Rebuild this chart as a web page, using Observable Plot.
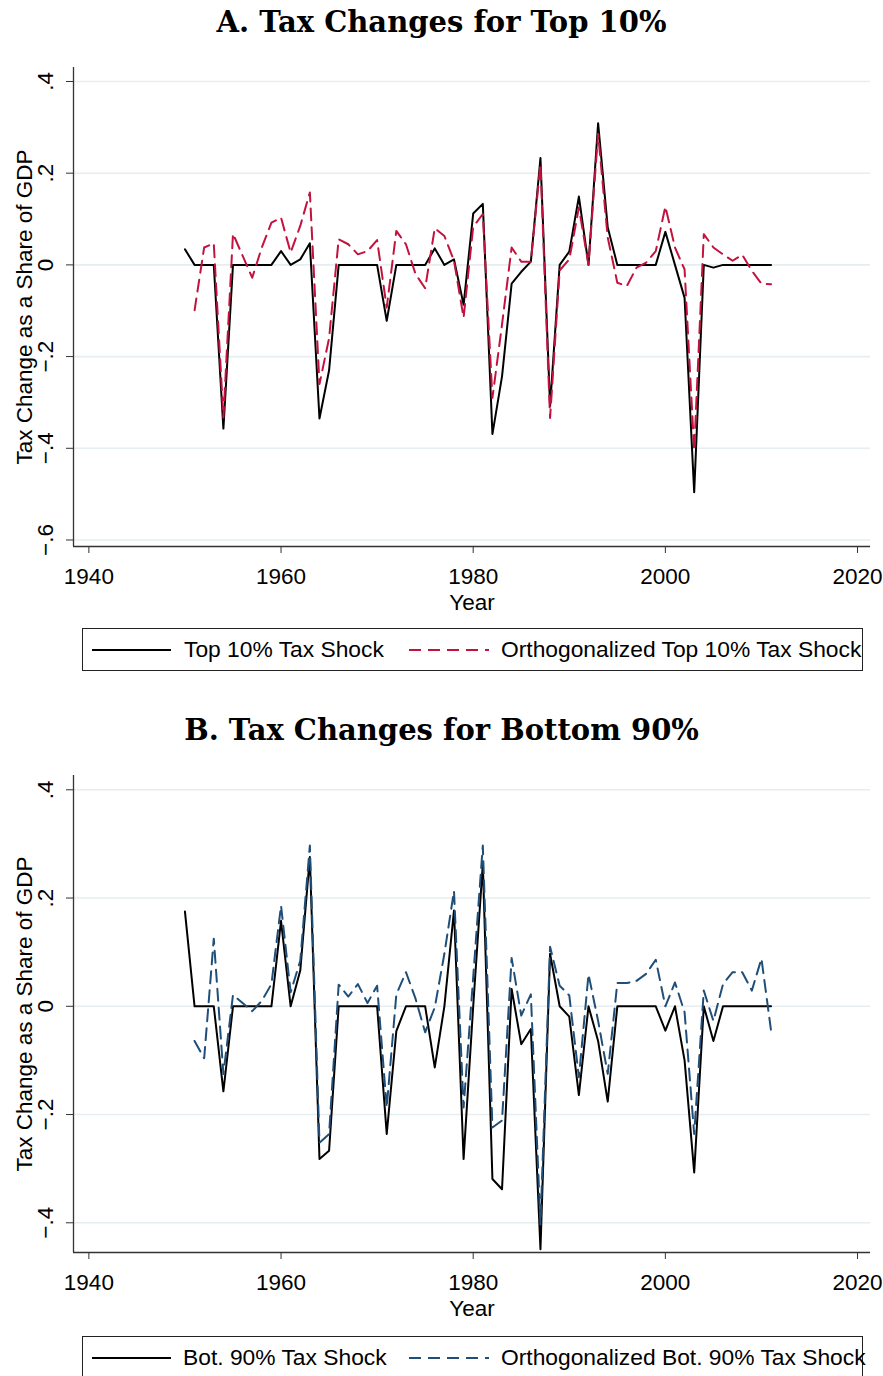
<!DOCTYPE html>
<html>
<head>
<meta charset="utf-8">
<script src="https://cdn.jsdelivr.net/npm/d3@7"></script>
<script src="https://cdn.jsdelivr.net/npm/@observablehq/plot@0.6"></script>
<style>
  html, body { margin: 0; padding: 0; background: #fff; }
  body { width: 883px; height: 1376px; overflow: hidden; }
  #root { position: relative; width: 883px; height: 1376px; font-family: "Liberation Sans", Arial, sans-serif; color: #000; }
  .title { position: absolute; left: 0; width: 883px; height: 44px; line-height: 44px; text-align: center;
           font-family: "DejaVu Serif", "Liberation Serif", serif; font-weight: bold; font-size: 29px; }
  .panel { position: absolute; left: 0; }
  .legend { position: absolute; left: 82px; width: 781px; height: 43px; border: 1px solid #222; box-sizing: border-box;
            font-size: 22.8px; background: #fff; }
  .legend .item { position: absolute; top: 0; height: 41px; line-height: 41px; white-space: nowrap; }
  .legend svg { position: absolute; top: 0; }
</style>
</head>
<body>
<div id="root"></div>
<script>
// ---------------- data ----------------
const yearsBlack = d3.range(1950, 2012);   // 1950..2011
const yearsOrtho = d3.range(1951, 2012);   // 1951..2011

const top10Shock = [
  0.034, 0, 0, 0, -0.357, 0, 0, 0, 0, 0,
  0.030, 0, 0.012, 0.047, -0.335, -0.230, 0, 0, 0, 0,
  0, -0.122, 0, 0, 0, 0, 0.036, 0, 0.012, -0.087,
  0.112, 0.133, -0.369, -0.243, -0.041, -0.015, 0.007, 0.233, -0.308, 0,
  0.029, 0.149, 0, 0.309, 0.082, 0, 0, 0, 0, 0,
  0.072, 0, -0.072, -0.496, 0, -0.006, 0, 0, 0, 0,
  0, 0
];
const top10Ortho = [
  -0.099, 0.038, 0.047, -0.333, 0.068, 0.020, -0.028, 0.038, 0.092,
  0.103, 0.027, 0.085, 0.158, -0.260, -0.160, 0.056, 0.045, 0.023, 0.030,
  0.054, -0.093, 0.074, 0.045, -0.020, -0.051, 0.080, 0.063, 0.009, -0.115,
  0.083, 0.111, -0.290, -0.130, 0.038, 0.007, 0.007, 0.220, -0.334, -0.012,
  0.012, 0.125, 0, 0.286, 0.060, -0.039, -0.046, -0.006, 0.005, 0.030,
  0.127, 0.038, -0.010, -0.405, 0.067, 0.038, 0.023, 0.009, 0.022, -0.013,
  -0.041, -0.042
];
const bot90Shock = [
  0.175, 0, 0, 0, -0.157, 0, 0, 0, 0, 0,
  0.158, 0, 0.066, 0.276, -0.282, -0.267, 0, 0, 0, 0,
  0, -0.236, -0.046, 0, 0, 0, -0.113, 0, 0.177, -0.282,
  0, 0.263, -0.319, -0.338, 0.032, -0.070, -0.042, -0.449, 0.097, 0,
  -0.019, -0.164, 0, -0.064, -0.176, 0, 0, 0, 0, 0,
  -0.045, 0, -0.100, -0.307, 0, -0.064, 0, 0, 0, 0,
  0, 0
];
const bot90Ortho = [
  -0.064, -0.096, 0.125, -0.125, 0.021, 0.006, -0.009, 0.010, 0.041,
  0.186, 0.026, 0.084, 0.297, -0.252, -0.236, 0.040, 0.018, 0.041, 0.006,
  0.038, -0.187, 0.022, 0.063, 0.014, -0.048, -0.002, 0.097, 0.213, -0.187,
  0.054, 0.297, -0.224, -0.211, 0.089, -0.017, 0.022, -0.403, 0.110, 0.038,
  0.020, -0.131, 0.059, -0.027, -0.125, 0.043, 0.043, 0.047, 0.060, 0.086,
  0, 0.044, -0.011, -0.236, 0.029, -0.027, 0.041, 0.063, 0.063, 0.029,
  0.088, -0.045
];

const xTicks = [1940, 1960, 1980, 2000, 2020];
const yTicksA = [0.4, 0.2, 0, -0.2, -0.4, -0.6];
const yTicksB = [0.4, 0.2, 0, -0.2, -0.4];

const titleA = "A. Tax Changes for Top 10%";
const titleB = "B. Tax Changes for Bottom 90%";
const yLabel = "Tax Change as a Share of GDP";
const xLabel = "Year";
const legendA = ["Top 10% Tax Shock", "Orthogonalized Top 10% Tax Shock"];
const legendB = ["Bot. 90% Tax Shock", "Orthogonalized Bot. 90% Tax Shock"];

const colorRed = "#c4123f";
const colorBlue = "#1f4e79";
const gridColor = "#e6eef1";
const axisColor = "#333";
const dash = "12,7";
const fs = 22.5;

const xDomain = [1938.4, 2021.35];

// ---------------- helpers ----------------
const fmtY = d => d === 0 ? "0" : (d < 0 ? "\u2212" : "") + String(Math.abs(d)).replace(/^0/, "");

function panel({black, ortho, orthoColor, yDomain, yTicks, height, marginTop, marginBottom}) {
  const blackData = yearsBlack.map((year, i) => ({year, value: black[i]}));
  const orthoData = yearsOrtho.map((year, i) => ({year, value: ortho[i]}));
  return Plot.plot({
    width: 883,
    height,
    marginLeft: 73,
    marginRight: 13,
    marginTop,
    marginBottom,
    style: {fontFamily: "'Liberation Sans', Arial, sans-serif", fontSize: fs + "px", background: "transparent", color: "#000", overflow: "visible"},
    x: {domain: xDomain},
    y: {domain: yDomain},
    marks: [
      Plot.ruleY(yTicks, {stroke: gridColor, strokeWidth: 1.6}),
      Plot.axisX({ticks: xTicks, tickSize: 7, tickPadding: 15, tickFormat: d => String(d), label: null, stroke: axisColor, fontSize: fs}),
      Plot.axisY({ticks: yTicks, tickSize: 7, tickFormat: () => "", label: null, stroke: axisColor}),
      Plot.text(yTicks, {y: d => d, text: fmtY, frameAnchor: "left", dx: -28, rotate: -90,
                         textAnchor: "middle", lineAnchor: "middle", fontSize: fs}),
      Plot.text([yLabel], {text: d => d, frameAnchor: "left", dx: -49, rotate: -90,
                           textAnchor: "middle", lineAnchor: "middle", fontSize: fs}),
      Plot.text([xLabel], {text: d => d, frameAnchor: "bottom", dy: 56, lineAnchor: "middle", fontSize: fs}),
      Plot.ruleX([xDomain[0]], {stroke: axisColor, strokeWidth: 1.3}),
      Plot.ruleY([yDomain[0]], {stroke: axisColor, strokeWidth: 1.3}),
      Plot.lineY(blackData, {x: "year", y: "value", stroke: "#000", strokeWidth: 2}),
      Plot.lineY(orthoData, {x: "year", y: "value", stroke: orthoColor, strokeWidth: 2, strokeDasharray: dash})
    ]
  });
}

function legend(top, labels, color, textLeft1) {
  const div = document.createElement("div");
  div.className = "legend";
  div.style.top = top + "px";
  div.innerHTML = `
    <svg style="left:9px" width="79" height="41"><line x1="0" x2="79" y1="21" y2="21" stroke="#000" stroke-width="2"/></svg>
    <div class="item" style="left:${textLeft1}px">${labels[0]}</div>
    <svg style="left:326px" width="80" height="41"><line x1="0" x2="80" y1="21" y2="21" stroke="${color}" stroke-width="2" stroke-dasharray="${dash}"/></svg>
    <div class="item" style="left:418px">${labels[1]}</div>`;
  return div;
}

// ---------------- layout ----------------
const root = document.getElementById("root");

const tA = document.createElement("div");
tA.className = "title"; tA.style.top = "0px"; tA.textContent = titleA;

const pA = panel({
  black: top10Shock, ortho: top10Ortho, orthoColor: colorRed,
  yDomain: [-0.6142, 0.4305], yTicks: yTicksA,
  height: 625, marginTop: 67, marginBottom: 79
});
const wA = document.createElement("div");
wA.className = "panel"; wA.style.top = "0px"; wA.appendChild(pA);

const tB = document.createElement("div");
tB.className = "title"; tB.style.top = "708px"; tB.textContent = titleB;

const pB = panel({
  black: bot90Shock, ortho: bot90Ortho, orthoColor: colorBlue,
  yDomain: [-0.4549, 0.4264], yTicks: yTicksB,
  height: 634, marginTop: 75, marginBottom: 82
});
const wB = document.createElement("div");
wB.className = "panel"; wB.style.top = "700px"; wB.appendChild(pB);

root.appendChild(wA);
root.appendChild(wB);
root.appendChild(tA);
root.appendChild(tB);
root.appendChild(legend(628, legendA, colorRed, 101));
root.appendChild(legend(1336, legendB, colorBlue, 100));
</script>
</body>
</html>
